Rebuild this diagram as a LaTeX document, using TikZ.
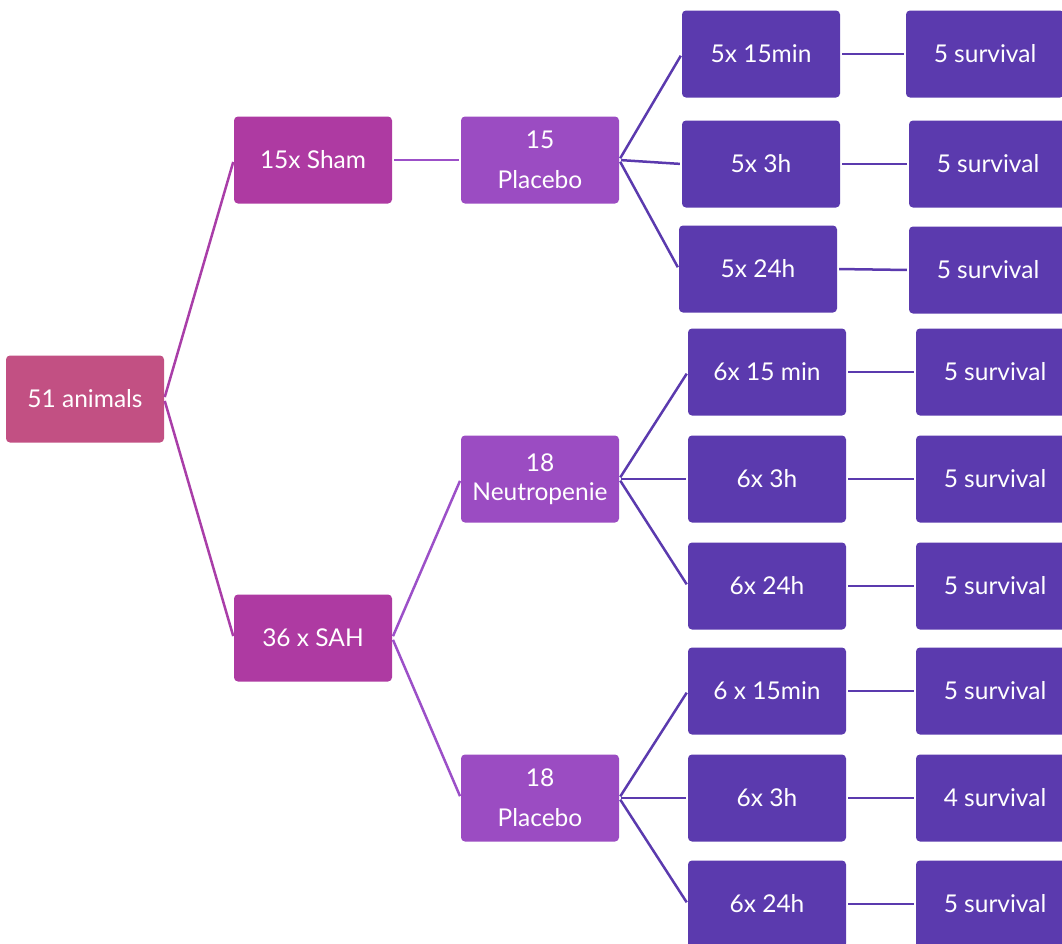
\documentclass[tikz,border=0pt]{standalone}
\usepackage{fontspec}
\setmainfont{Lato}
\definecolor{cRoot}{HTML}{C25083}
\definecolor{cOne}{HTML}{AE3AA2}
\definecolor{cTwo}{HTML}{9B4CC2}
\definecolor{cThree}{HTML}{5B3AAE}
\definecolor{lOne}{HTML}{A93EA8}
\definecolor{lTwo}{HTML}{9C50C8}
\definecolor{lThree}{HTML}{5B3AAE}
\begin{document}
\begin{tikzpicture}[x=1pt,y=-1pt,
  box/.style={rounded corners=4pt, minimum width=158pt, minimum height=87pt,
    text=white, align=center, inner sep=0pt,
    font=\fontsize{24.5}{29}\selectfont},
  rootbox/.style={box, fill=cRoot},
  onebox/.style={box, fill=cOne},
  twobox/.style={box, fill=cTwo},
  threebox/.style={box, fill=cThree},
  link/.style={line width=2.5pt, shorten <=2pt, shorten >=2pt},
  linkone/.style={link, draw=lOne},
  linktwo/.style={link, draw=lTwo},
  linkthree/.style={link, draw=lThree}]
\useasboundingbox (0,0) rectangle (1062,943);
% level 0
\node[rootbox] (root) at (85,399) {51 animals};
% level 1
\node[onebox] (sham) at (313,160) {15x Sham};
\node[onebox] (sah) at (313,638) {36 x SAH};
% level 2
\node[twobox] (pla15) at (540,160) {15\\[11pt]Placebo};
\node[twobox] (neu) at (540,479) {18\\Neutropenie};
\node[twobox] (pla18) at (540,798) {18\\[11pt]Placebo};
% level 3
\node[threebox] (a1) at (761,54) {5x 15min};
\node[threebox] (a2) at (761,164) {5x 3h};
\node[threebox] (a3) at (758,269) {5x 24h};
\node[threebox] (b1) at (767,372) {6x 15 min};
\node[threebox] (b2) at (767,479) {6x 3h};
\node[threebox] (b3) at (767,586) {6x 24h};
\node[threebox] (c1) at (767,691) {6 x 15min};
\node[threebox] (c2) at (767,798) {6x 3h};
\node[threebox] (c3) at (767,904) {6x 24h};
% level 4
\node[threebox] (sa1) at (985,54) {5 survival};
\node[threebox] (sa2) at (988,164) {5 survival};
\node[threebox] (sa3) at (988,270) {5 survival};
\node[threebox] (sb1) at (995,372) {5 survival};
\node[threebox] (sb2) at (995,479) {5 survival};
\node[threebox] (sb3) at (995,586) {5 survival};
\node[threebox] (sc1) at (995,691) {5 survival};
\node[threebox] (sc2) at (995,798) {4 survival};
\node[threebox] (sc3) at (995,904) {5 survival};
% connectors
\draw[linkone] (root.east) -- (sham.west);
\draw[linkone] (root.east) -- (sah.west);
\draw[linktwo] (sham.east) -- (pla15.west);
\draw[linktwo] (sah.east) -- (neu.west);
\draw[linktwo] (sah.east) -- (pla18.west);
\foreach \p/\k in {pla15/a, neu/b, pla18/c}{
  \foreach \i in {1,2,3}{
    \draw[linkthree] (\p.east) -- (\k\i.west);
    \draw[linkthree] (\k\i.east) -- (s\k\i.west);
  }
}
\end{tikzpicture}
\end{document}
